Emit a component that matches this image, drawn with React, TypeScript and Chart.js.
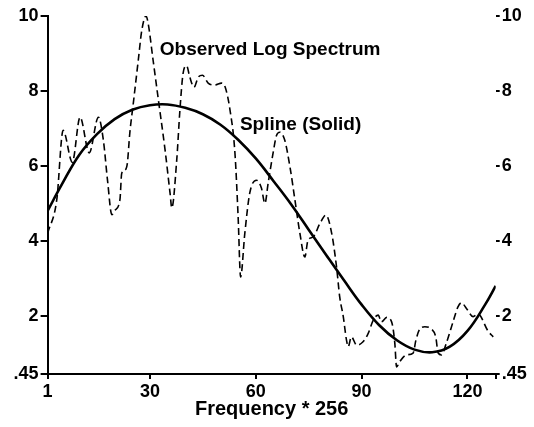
import { useEffect, useRef } from 'react';
import { Chart, registerables } from 'chart.js';

Chart.register(...registerables);

// Spline (solid) — frequency and value
const splineFreq = [1, 5, 10, 15, 20, 25, 30, 35, 40, 45, 50, 55, 60, 65, 70, 75, 80, 85, 90, 95, 100, 105, 110, 115, 120, 125, 128];
const splineValues = [4.8, 5.5, 6.3, 6.85, 7.25, 7.5, 7.62, 7.64, 7.55, 7.38, 7.1, 6.7, 6.2, 5.6, 4.98, 4.3, 3.62, 2.95, 2.3, 1.75, 1.35, 1.1, 1.03, 1.18, 1.6, 2.3, 2.8];

// Observed log spectrum (dashed)
const spectrumFreq = [
  1, 3.6, 5.4, 8, 10.2, 12.8, 15.4, 16.8, 18, 19.2, 20.1, 21.5, 22, 22.9, 23.6, 24.3, 25.3, 26.7, 27.7, 28.9,
  29.5, 30.9, 32.4, 34.3, 35.7, 36.2, 37.6, 38.5, 39.4, 40.4, 41.3, 42.5, 43.7, 44.9, 46.5, 48.4, 50.3, 51.3,
  52.7, 54.1, 55, 55.7, 56.9, 58.3, 60.2, 61.6, 62.6, 63.5, 64.9, 65.9, 66.8, 68.2, 69.7, 71.1, 72.5, 73.9,
  74.8, 76.3, 78.2, 79.9, 81.5, 82.9, 83.8, 84.8, 85.7, 86.2, 87.1, 88.6, 90.4, 91.9, 93.3, 94.7, 95.6, 97.1,
  98.5, 99.4, 99.9, 100.8, 102.7, 104.6, 105.4, 106.5, 107.9, 109.8, 111, 111.7, 112.6, 114.1, 115.9, 117.3,
  118.3, 119.7, 121.6, 123, 125.8, 127.3,
];
const spectrumValues = [
  4.2, 5.1, 6.95, 6.1, 7.3, 6.35, 7.3, 6.69, 5.6, 4.7, 4.82, 5.1, 5.8, 5.89, 6.07, 6.88, 7.68, 8.82, 9.62, 10.0,
  9.8, 8.82, 7.76, 6.42, 5.28, 4.88, 6.16, 7.49, 8.47, 8.67, 8.37, 8.1, 8.37, 8.42, 8.21, 8.16, 8.21, 8.11,
  7.49, 6.34, 4.64, 3.04, 4.21, 5.28, 5.62, 5.41, 5.0, 5.54, 6.34, 6.82, 6.9, 6.69, 5.97, 5.09, 4.21, 3.57,
  4.02, 4.11, 4.47, 4.69, 4.21, 3.3, 2.5, 1.98, 1.36, 1.18, 1.44, 1.22, 1.31, 1.54, 1.89, 2.02, 1.84, 1.96,
  1.84, 1.28, 0.64, 0.78, 0.96, 1.01, 1.36, 1.65, 1.71, 1.65, 1.44, 1.01, 0.96, 1.3, 1.84, 2.24,
  2.35, 2.2, 1.98, 2.05, 1.6, 1.44,
];

const xTickValues = [1, 30, 60, 90, 120, 128];
const yTickValues = [0.45, 2, 4, 6, 8, 10];
const xTitle = 'Frequency * 256';
const spectrumLabel = 'Observed Log Spectrum';
const splineLabel = 'Spline (Solid)';

const FAMILY = '"Liberation Sans", Arial, Helvetica, sans-serif';

const fmtY = (v: number) => (v === 0.45 ? '.45' : String(v));

const labelPlugin = {
  id: 'textLabels',
  afterDatasetsDraw(chart: any) {
    const { ctx } = chart;
    const x = chart.scales.x;
    const y = chart.scales.y;
    ctx.save();
    ctx.fillStyle = '#000';
    ctx.font = `bold 19px ${FAMILY}`;
    ctx.textAlign = 'left';
    ctx.textBaseline = 'middle';
    ctx.fillText(spectrumLabel, x.getPixelForValue(32.8), y.getPixelForValue(9.1));
    ctx.fillText(splineLabel, x.getPixelForValue(55.5), y.getPixelForValue(7.1));
    ctx.restore();
  },
};

export default function App() {
  const ref = useRef<HTMLCanvasElement>(null);
  useEffect(() => {
    const tickFont = { family: FAMILY, weight: 'bold' as const, size: 18 };
    const yScaleBase = (position: 'left' | 'right') => ({
      type: 'linear' as const,
      position,
      min: 0.45,
      max: 10,
      afterBuildTicks: (s: any) => {
        s.ticks = yTickValues.map((v) => ({ value: v }));
      },
      ticks: {
        callback: (v: any) => fmtY(Number(v)),
        font: tickFont,
        color: '#000',
        padding: 2,
        autoSkip: false,
      },
      grid: {
        drawOnChartArea: false,
        drawTicks: true,
        tickLength: position === 'left' ? 7 : 4,
        color: '#000',
        lineWidth: 2,
      },
      border: { display: position === 'left', color: '#000', width: 2 },
    });

    const chart = new Chart(ref.current!, {
      type: 'line',
      data: {
        datasets: [
          {
            label: 'Observed Log Spectrum',
            data: spectrumFreq.map((f, i) => ({ x: f, y: spectrumValues[i] })),
            borderColor: '#000',
            borderWidth: 1.6,
            borderDash: [7, 4],
            pointRadius: 0,
            cubicInterpolationMode: 'monotone',
            fill: false,
          },
          {
            label: 'Spline',
            data: splineFreq.map((f, i) => ({ x: f, y: splineValues[i] })),
            borderColor: '#000',
            borderWidth: 2.6,
            pointRadius: 0,
            tension: 0.4,
            fill: false,
          },
        ],
      },
      options: {
        responsive: false,
        animation: false,
        layout: { padding: { top: 16, left: 0, right: 0, bottom: 0 } },
        plugins: { legend: { display: false }, tooltip: { enabled: false } },
        scales: {
          x: {
            type: 'linear',
            min: 1,
            max: 128,
            afterBuildTicks: (s: any) => {
              s.ticks = xTickValues.map((v) => ({ value: v }));
            },
            afterFit: (s: any) => {
              s.height = 53;
            },
            ticks: {
              callback: (v: any) => (Number(v) === 128 ? '' : String(v)),
              font: tickFont,
              color: '#000',
              padding: 2,
              maxRotation: 0,
              autoSkip: false,
            },
            grid: { drawOnChartArea: false, drawTicks: true, tickLength: 5, color: '#000', lineWidth: 2 },
            border: { display: true, color: '#000', width: 2 },
            title: {
              display: true,
              text: xTitle,
              color: '#000',
              font: { family: FAMILY, weight: 'bold', size: 20 },
              padding: { top: 0, bottom: 6 },
            },
          },
          y: { ...yScaleBase('left'), afterFit: (s: any) => { s.width = 47.6; } },
          y2: { ...yScaleBase('right'), afterFit: (s: any) => { s.width = 38.3; } },
        },
      } as any,
      plugins: [labelPlugin],
    });
    return () => chart.destroy();
  }, []);

  return (
    <div style={{ position: 'absolute', left: 0, top: 0, width: 534, height: 427, background: '#fff' }}>
      <canvas ref={ref} width={534} height={427} style={{ display: 'block' }} />
    </div>
  );
}
